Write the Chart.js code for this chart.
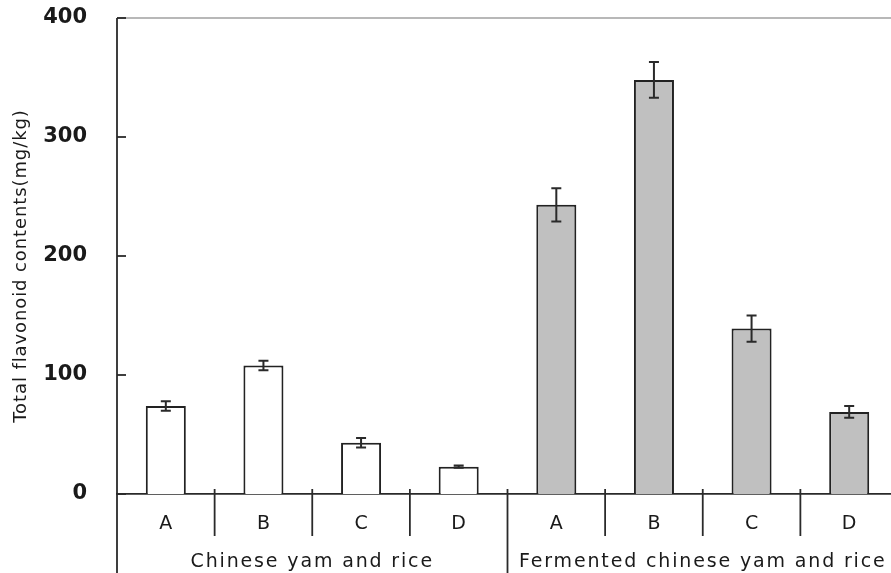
<!DOCTYPE html>
<html>
<head>
<meta charset="utf-8">
<script src="https://cdn.jsdelivr.net/npm/chart.js@4/dist/chart.umd.min.js"></script>
<style>
  html, body { margin: 0; padding: 0; background: #fff; overflow: hidden; }
  canvas { display: block; }
</style>
</head>
<body>
<canvas id="chart" width="898" height="573"></canvas>
<script>
// data
var groups = ['Chinese yam and rice', 'Fermented chinese yam and rice'];
var samples = ['A', 'B', 'C', 'D'];
var rawValues = [74, 108, 43, 23];
var rawErrors = [4, 4, 4, 1];
var fermentedValues = [243, 348, 139, 69];
var fermentedErrors = [14, 15, 11, 5];
var yTicks = [0, 100, 200, 300, 400];
var yTitle = 'Total flavonoid contents(mg/kg)';

var labels = samples.concat(samples);
var values = rawValues.concat(fermentedValues);
var errors = rawErrors.concat(fermentedErrors);
var colors = samples.map(function () { return '#ffffff'; })
  .concat(samples.map(function () { return '#c0c0c0'; }));

var FONT = "'DejaVu Sans', sans-serif";
var INK = '#1a1a1a';

// extra drawing: inward y ticks, error bars, category separators, group labels, y title
var decorations = {
  id: 'decorations',
  afterDatasetsDraw: function (chart) {
    var ctx = chart.ctx;
    var area = chart.chartArea;
    var x = chart.scales.x;
    var y = chart.scales.y;
    var zero = y.getPixelForValue(0);
    ctx.save();

    // top border
    ctx.strokeStyle = '#a0a0a0';
    ctx.lineWidth = 1.5;
    ctx.beginPath();
    ctx.moveTo(area.left, y.getPixelForValue(400));
    ctx.lineTo(area.right, y.getPixelForValue(400));
    ctx.stroke();

    ctx.strokeStyle = '#2a2a2a';
    ctx.lineWidth = 1.8;

    // y axis line running down through the label area
    ctx.beginPath();
    ctx.moveTo(area.left, area.top);
    ctx.lineTo(area.left, chart.height);
    ctx.stroke();

    // ticks pointing into the plot
    yTicks.forEach(function (t) {
      var py = y.getPixelForValue(t);
      ctx.beginPath();
      ctx.moveTo(area.left, py);
      ctx.lineTo(area.left + 9, py);
      ctx.stroke();
    });

    // error bars
    ctx.lineWidth = 2;
    var meta = chart.getDatasetMeta(0);
    meta.data.forEach(function (bar, i) {
      var hi = y.getPixelForValue(values[i] + errors[i]);
      var lo = y.getPixelForValue(values[i] - errors[i]);
      ctx.beginPath();
      ctx.moveTo(bar.x, hi);
      ctx.lineTo(bar.x, lo);
      ctx.moveTo(bar.x - 5, hi);
      ctx.lineTo(bar.x + 5, hi);
      ctx.moveTo(bar.x - 5, lo);
      ctx.lineTo(bar.x + 5, lo);
      ctx.stroke();
    });

    // separators between categories
    ctx.lineWidth = 1.8;
    for (var i = 0; i < labels.length - 1; i++) {
      var sx = (x.getPixelForValue(i) + x.getPixelForValue(i + 1)) / 2;
      var end = (i === samples.length - 1) ? chart.height : zero + 42;
      ctx.beginPath();
      ctx.moveTo(sx, zero - 5);
      ctx.lineTo(sx, end);
      ctx.stroke();
    }

    // group labels
    ctx.fillStyle = INK;
    ctx.font = '19px ' + FONT;
    ctx.textAlign = 'center';
    ctx.textBaseline = 'middle';
    ctx.letterSpacing = '1.85px';
    groups.forEach(function (g, gi) {
      var first = gi * samples.length;
      var last = first + samples.length - 1;
      var left = gi === 0 ? area.left : (x.getPixelForValue(first - 1) + x.getPixelForValue(first)) / 2;
      var right = gi === groups.length - 1 ? area.right : (x.getPixelForValue(last) + x.getPixelForValue(last + 1)) / 2;
      ctx.fillText(g, (left + right) / 2, 562);
    });

    // y title
    ctx.font = '18px ' + FONT;
    ctx.letterSpacing = '0.9px';
    ctx.translate(21, (y.getPixelForValue(400) + zero) / 2 + 10);
    ctx.rotate(-Math.PI / 2);
    ctx.fillText(yTitle, 0, 0);
    ctx.restore();
  }
};

new Chart(document.getElementById('chart').getContext('2d'), {
  type: 'bar',
  data: {
    labels: labels,
    datasets: [{
      data: values,
      backgroundColor: colors,
      borderColor: '#222222',
      borderWidth: 2,
      barPercentage: 0.41,
      categoryPercentage: 1
    }]
  },
  options: {
    responsive: false,
    animation: false,
    layout: { padding: { top: 18, left: 0, right: 0, bottom: 0 } },
    plugins: {
      legend: { display: false },
      tooltip: { enabled: false }
    },
    scales: {
      x: {
        grid: { display: false, drawTicks: false },
        border: { display: true, color: '#2a2a2a', width: 1.8 },
        ticks: { color: INK, font: { family: FONT, size: 19 }, padding: 19, maxRotation: 0 },
        afterFit: function (s) { s.height = 79; s.paddingLeft = 0; s.paddingRight = 0; }
      },
      y: {
        min: 0,
        max: 400,
        grid: { display: false, drawTicks: false },
        border: { display: false },
        ticks: {
          stepSize: 100,
          color: INK,
          padding: 30,
          font: { family: FONT, size: 21, weight: 'bold' }
        },
        afterFit: function (s) { s.width = 117; s.paddingTop = 0; s.paddingBottom = 0; }
      }
    }
  },
  plugins: [decorations]
});
</script>
</body>
</html>
